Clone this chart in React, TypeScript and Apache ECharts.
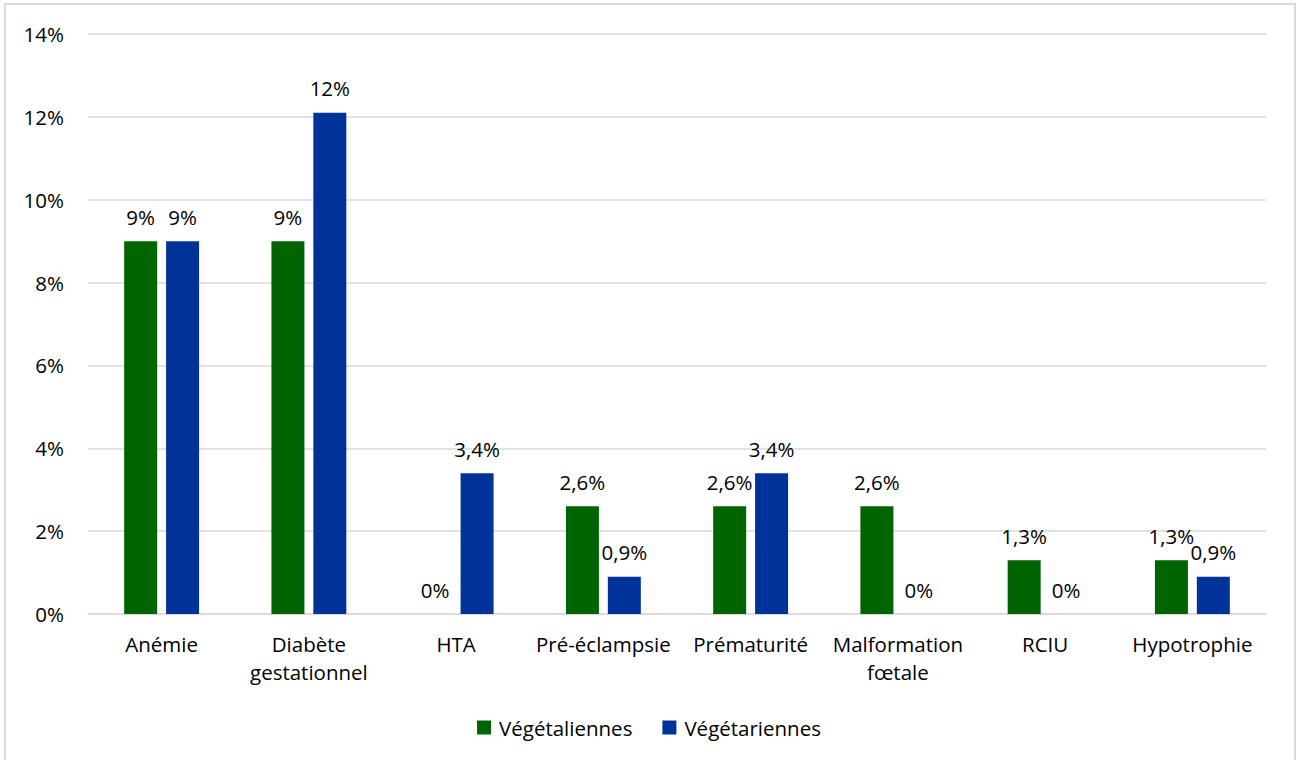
import React, { useEffect, useRef } from "react";
import * as echarts from "echarts";

const categories = [
  "Anémie",
  "Diabète\ngestationnel",
  "HTA",
  "Pré-éclampsie",
  "Prématurité",
  "Malformation\nfœtale",
  "RCIU",
  "Hypotrophie",
];
const vegetaliennes = [9, 9, 0, 2.6, 2.6, 2.6, 1.3, 1.3];
const vegetaliennesLabels = ["9%", "9%", "0%", "2,6%", "2,6%", "2,6%", "1,3%", "1,3%"];
const vegetariennes = [9, 12.1, 3.4, 0.9, 3.4, 0, 0, 0.9];
const vegetariennesLabels = ["9%", "12%", "3,4%", "0,9%", "3,4%", "0%", "0%", "0,9%"];
const yTicks = [0, 2, 4, 6, 8, 10, 12, 14];

const FONT = "'Open Sans', Lato, sans-serif";
const FS = 20.5;

export default function App() {
  const ref = useRef<HTMLDivElement>(null);
  useEffect(() => {
    if (!ref.current) return;
    const chart = echarts.init(ref.current, undefined, { renderer: "svg" });
    chart.setOption({
      animation: false,
      textStyle: { fontFamily: FONT, color: "#000" },
      graphic: [
        {
          type: "rect",
          shape: { x: 5, y: 4, width: 1290, height: 800 },
          style: { fill: "none", stroke: "#d9d9d9", lineWidth: 2 },
          silent: true,
        },
      ],
      grid: { left: 88, right: 32, top: 34, bottom: 146 },
      legend: {
        bottom: 17,
        left: "center",
        itemWidth: 14,
        itemHeight: 14,
        itemGap: 30,
        icon: "rect",
        textStyle: { fontFamily: FONT, fontSize: FS, color: "#000", padding: [0, 0, 0, 3] },
        data: ["Végétaliennes", "Végétariennes"],
      },
      xAxis: {
        type: "category",
        data: categories,
        axisLine: { lineStyle: { color: "#d9d9d9", width: 1.5 } },
        axisTick: { show: false },
        axisLabel: {
          fontFamily: FONT,
          fontSize: FS,
          color: "#000",
          margin: 16,
          lineHeight: 28,
          interval: 0,
        },
      },
      yAxis: {
        type: "value",
        min: yTicks[0],
        max: yTicks[yTicks.length - 1],
        interval: 2,
        axisLine: { show: false },
        axisTick: { show: false },
        splitLine: { lineStyle: { color: "#d9d9d9", width: 1.5 } },
        axisLabel: {
          fontFamily: FONT,
          fontSize: FS,
          color: "#000",
          margin: 24,
          formatter: (v: number) => `${v}%`,
        },
      },
      series: [
        {
          name: "Végétaliennes",
          type: "bar",
          data: vegetaliennes,
          barWidth: 33,
          barGap: "27%",
          itemStyle: { color: "#006400" },
          label: {
            show: true,
            position: "top",
            distance: 14,
            fontFamily: FONT,
            fontSize: FS,
            color: "#000",
            formatter: (p: any) => vegetaliennesLabels[p.dataIndex],
          },
        },
        {
          name: "Végétariennes",
          type: "bar",
          data: vegetariennes,
          barWidth: 33,
          barGap: "27%",
          itemStyle: { color: "#003399" },
          label: {
            show: true,
            position: "top",
            distance: 14,
            fontFamily: FONT,
            fontSize: FS,
            color: "#000",
            formatter: (p: any) => vegetariennesLabels[p.dataIndex],
          },
        },
      ],
    });
    return () => chart.dispose();
  }, []);
  return (
    <div
      ref={ref}
      style={{ position: "fixed", left: 0, top: 0, width: 1298, height: 760, background: "#fff" }}
    />
  );
}
